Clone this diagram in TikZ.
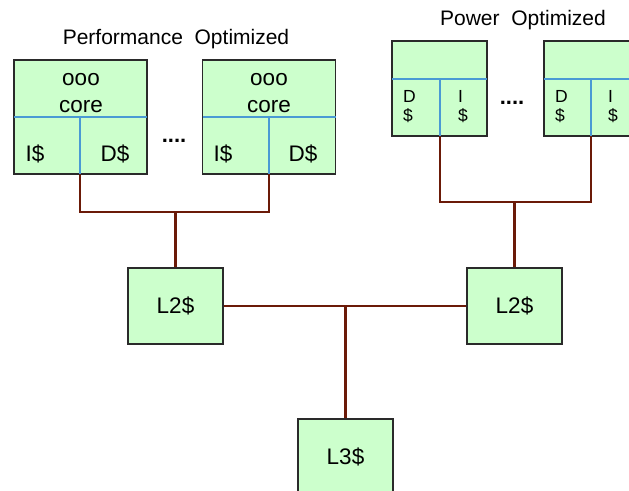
\documentclass[tikz,border=0pt]{standalone}
\usepackage{fontspec}
\setmainfont{Liberation Sans}
\definecolor{boxfill}{HTML}{CCFFCC}
\definecolor{boxline}{HTML}{2A2A2A}
\definecolor{divblue}{HTML}{4A9AD4}
\definecolor{busbrown}{HTML}{6B1A08}
\begin{document}
\begin{tikzpicture}[x=1pt,y=-1pt,
  cachebox/.style={draw=boxline,fill=boxfill,line width=1.4pt,inner sep=0pt},
  divider/.style={draw=divblue,line width=1.5pt},
  bus/.style={draw=busbrown,line width=2.3pt},
  lbl/.style={inner sep=0pt,font=\fontsize{22.5}{27}\selectfont},
  slbl/.style={inner sep=0pt,font=\fontsize{17.5}{19}\selectfont,align=left},
  ttl/.style={inner sep=0pt,font=\fontsize{21}{24}\selectfont}]
\useasboundingbox (0,0) rectangle (629,490);
\begin{scope}
\clip (0,0) rectangle (629,490);
% Titles
\node[ttl] (tperf) at (176,39) {Performance\ \ Optimized};
\node[ttl] (tpow) at (523,20) {Power\ \ Optimized};
% Performance cores
\node[cachebox,minimum width=133pt,minimum height=114pt] (c1) at (80.5,117) {};
\node[cachebox,minimum width=133pt,minimum height=114pt] (c2) at (269,117) {};
\draw[divider] (14,117) -- (147,117) (80,117) -- (80,174);
\draw[divider] (202.5,117) -- (335.5,117) (269,117) -- (269,174);
\node[lbl,align=center] (c1t) at (81,93) {ooo\\core};
\node[lbl,align=center] (c2t) at (269,93) {ooo\\core};
\node[lbl] (c1i) at (35,154) {I\$};
\node[lbl] (c1d) at (115,154) {D\$};
\node[lbl] (c2i) at (223,154) {I\$};
\node[lbl] (c2d) at (303,154) {D\$};
\node[lbl,font=\fontsize{22}{27}\selectfont\bfseries] (dots1) at (174,141) {....};
% Power cores
\node[cachebox,minimum width=95pt,minimum height=95pt] (p1) at (439.5,88.5) {};
\node[cachebox,minimum width=95pt,minimum height=95pt] (p2) at (591.5,88.5) {};
\draw[divider] (392,79) -- (487,79) (440,79) -- (440,136);
\draw[divider] (544,79) -- (639,79) (591,79) -- (591,136);
\node[slbl,anchor=north west] (p1d) at (403,90) {D\\\$};
\node[slbl,anchor=north] (p1i) at (463,90) {I\\\$};
\node[slbl,anchor=north west] (p2d) at (555,90) {D\\\$};
\node[slbl,anchor=north] (p2i) at (613,90) {I\\\$};
\node[lbl,font=\fontsize{22}{27}\selectfont\bfseries] (dots2) at (512,103) {....};
% L2 and L3
\node[cachebox,minimum width=95pt,minimum height=76pt,lbl] (l2a) at (175.5,306) {L2\$};
\node[cachebox,minimum width=95pt,minimum height=76pt,lbl] (l2b) at (514.5,306) {L2\$};
\node[cachebox,minimum width=95pt,minimum height=76pt,lbl] (l3) at (345.5,457) {L3\$};
% Buses
\coordinate (c1b) at (80,174);
\coordinate (c2b) at (269,174);
\coordinate (pj) at (175.5,212);
\draw[bus] (c1b) |- (pj) -| (c2b);
\draw[bus] (pj) -- (l2a.north);
\coordinate (p1b) at (440,136);
\coordinate (p2b) at (591,136);
\coordinate (qj) at (514.5,202);
\draw[bus] (p1b) |- (qj) -| (p2b);
\draw[bus] (qj) -- (l2b.north);
\draw[bus] (l2a.east) -- (l2b.west);
\coordinate (mj) at (345.5,306);
\draw[bus] (mj) -- (l3.north);
\end{scope}
\end{tikzpicture}
\end{document}
